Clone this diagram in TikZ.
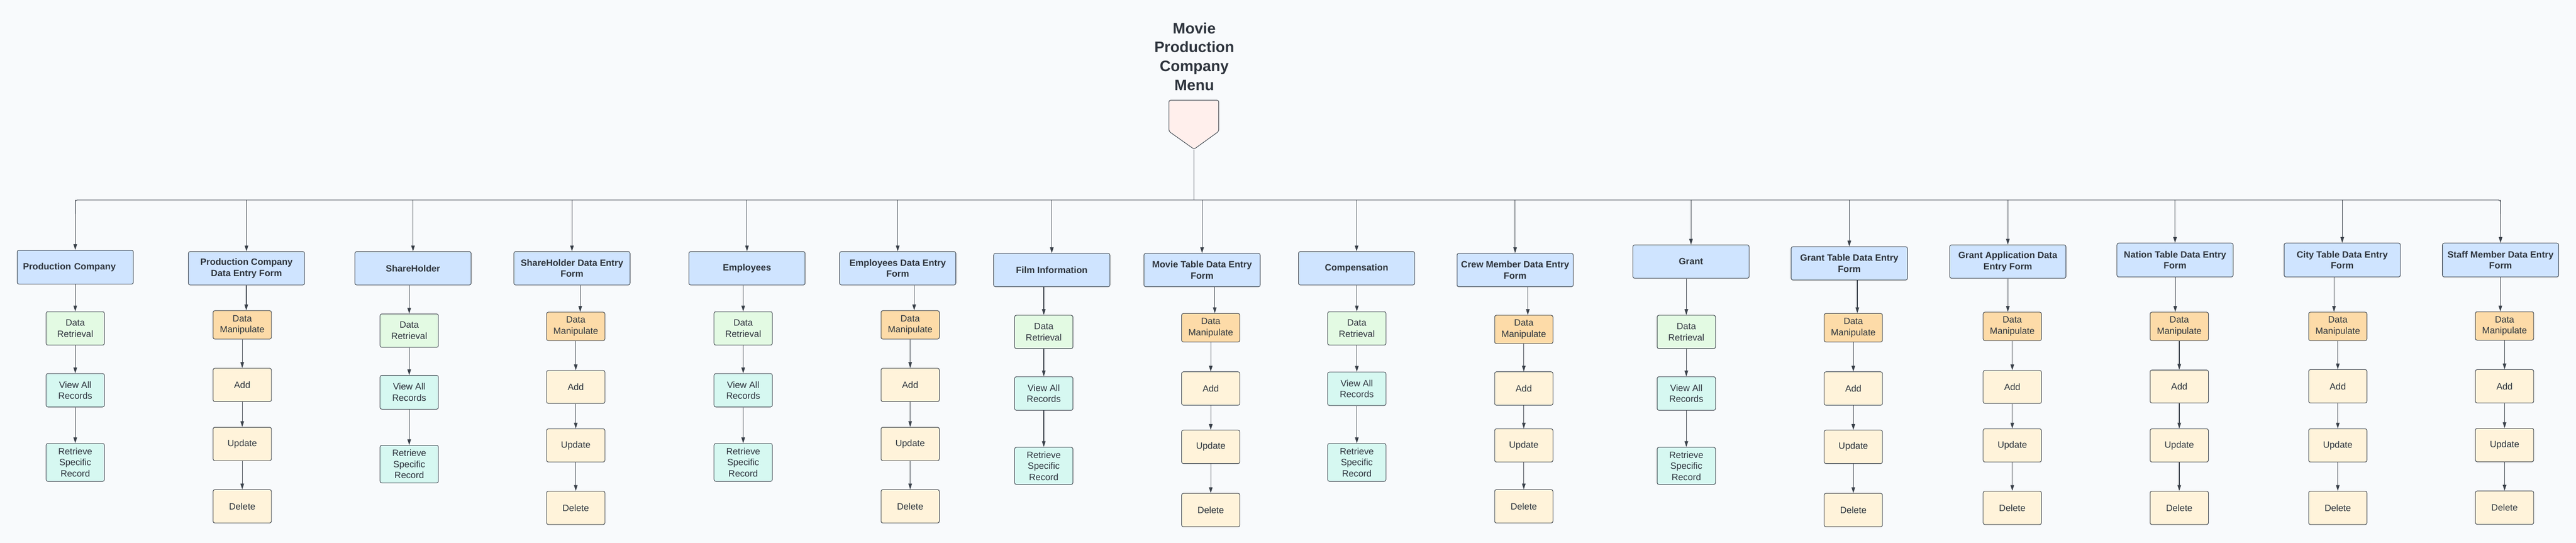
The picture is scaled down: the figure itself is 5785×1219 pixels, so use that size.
\documentclass[tikz,border=0pt]{standalone}
\usepackage{fontspec}
\setmainfont{Liberation Sans}
\usetikzlibrary{arrows.meta}
\definecolor{bgc}{HTML}{F8FAFC}
\definecolor{linec}{HTML}{3A414A}
\definecolor{textc}{HTML}{2E343D}
\definecolor{bluef}{HTML}{CFE4FF}
\definecolor{greenf}{HTML}{E3FAE3}
\definecolor{cyanf}{HTML}{D6F8F1}
\definecolor{orangef}{HTML}{FDDBA8}
\definecolor{beigef}{HTML}{FFF3DA}
\definecolor{pinkf}{HTML}{FFEFEC}
\tikzset{
  anybox/.style={draw=linec, line width=1.2pt, rounded corners=4pt, align=center, text=textc, inner sep=0pt},
  parent/.style={anybox, fill=bluef, minimum width=261pt, font=\bfseries\fontsize{20.5}{25}\selectfont},
  pcleft/.style={align=left, text width=235pt, inner xsep=13pt},
  sub/.style={anybox, minimum width=131pt, font=\fontsize{20.5}{25}\selectfont},
  dr/.style={sub, fill=greenf},
  va/.style={sub, fill=cyanf},
  dm/.style={sub, fill=orangef},
  op/.style={sub, fill=beigef},
  conn/.style={draw=linec, line width=1.3pt},
  arr/.style={conn, -{Triangle[length=13pt,width=8pt]}},
  titlefont/.style={font=\bfseries\fontsize{34}{42.5}\selectfont, text=textc, align=center}
}
% #1 style, #2 name, #3 x, #4 top, #5 bottom, #6 text
\newcommand{\mkbox}[6]{\node[#1, minimum height={(#5)-(#4)}] (#2) at (#3,{((#4)+(#5))/2}) {#6};}
% retrieval column: #1 id, #2 cx, #3..#8 tops/bottoms
\newcommand{\rcol}[8]{%
  \mkbox{dr}{#1a}{#2}{#3}{#4}{Data\\Retrieval}
  \mkbox{va}{#1b}{#2}{#5}{#6}{View All\\Records}
  \mkbox{va}{#1c}{#2}{#7}{#8}{Retrieve\\Specific\\Record}
  \draw[arr] (#1a) -- (#1b);
  \draw[arr] (#1b) -- (#1c);
}
% manipulation column: #1 id, #2 cx, #3 DMt, #4 DMb, #5 At, #6 Ab, #7 Ut, #8 Ub, #9 Dt
\newcommand{\mcol}[9]{%
  \mkbox{dm}{#1a}{#2}{#3}{#4}{Data\\Manipulate}
  \mkbox{op}{#1b}{#2}{#5}{#6}{Add}
  \mkbox{op}{#1c}{#2}{#7}{#8}{Update}
  \mkbox{op}{#1d}{#2}{#9}{#9+75}{Delete}
  \draw[arr] (#1a) -- (#1b);
  \draw[arr] (#1b) -- (#1c);
  \draw[arr] (#1c) -- (#1d);
}
% parent link: #1 id, #2 x of the first arrow
\newcommand{\plink}[2]{%
  \coordinate (x#1) at (#2,0);
  \draw[arr] (p#1.south -| x#1) -- (#1a.north -| x#1);
  \draw[arr] (p#1.north |- bus) -- (p#1.north);
}
\begin{document}
\begin{tikzpicture}[x=1pt,y=-1pt]
\useasboundingbox (0,0) rectangle (5785,1219);
\fill[bgc] (0,0) rectangle (5785,1219);
\coordinate (bus) at (0,449);
\coordinate (bb) at (0,480);

% title and menu shape
\node[titlefont] (title) at (2682,127) {Movie\\Production\\Company\\Menu};
\filldraw[draw=linec, fill=pinkf, line width=1.2pt, rounded corners=4pt]
  (2625,225) -- (2737,225) -- (2737,295) -- (2681.5,335) -- (2625,295) -- cycle;
\coordinate (menutip) at (2681.5,335);

% parent boxes
\mkbox{parent,pcleft}{pc1}{169}{562}{638}{Production Company}
\mkbox{parent}{pc2}{553.5}{565}{640}{Production Company\\Data Entry Form}
\mkbox{parent}{pc3}{927.5}{565}{640}{ShareHolder}
\mkbox{parent}{pc4}{1284.5}{565}{640}{ShareHolder Data Entry\\Form}
\mkbox{parent}{pc5}{1677.5}{565}{640}{Employees}
\mkbox{parent}{pc6}{2016}{565}{640}{Employees Data Entry\\Form}
\mkbox{parent}{pc7}{2362}{569}{644}{Film Information}
\mkbox{parent}{pc8}{2699.5}{569}{644}{Movie Table Data Entry\\Form}
\mkbox{parent}{pc9}{3046.5}{565}{640}{Compensation}
\mkbox{parent}{pc10}{3402.5}{569}{644}{Crew Member Data Entry\\Form}
\mkbox{parent}{pc11}{3797.5}{550}{625}{Grant}
\mkbox{parent}{pc12}{4153}{554}{629}{Grant Table Data Entry\\Form}
\mkbox{parent}{pc13}{4509}{550}{625}{Grant Application Data\\Entry Form}
\mkbox{parent}{pc14}{4884.5}{546}{622}{Nation Table Data Entry\\Form}
\mkbox{parent}{pc15}{5260}{546}{622}{City Table Data Entry\\Form}
\mkbox{parent}{pc16}{5615.5}{546}{622}{Staff Member Data Entry\\Form}

% bus
\draw[conn] (menutip) -- (menutip |- bus);
\draw[conn, rounded corners=5pt] (pc1.north |- bb) -- (pc1.north |- bus) -- (pc16.north |- bus) -- (pc16.north |- bb);

% columns
\rcol{c1}{169}{700}{775}{839}{914}{996}{1081}
\mcol{c2}{544}{697.6}{761.5}{827}{902}{959.5}{1034.6}{1099.6}
\rcol{c3}{919}{705}{780}{843}{919}{1000}{1084.5}
\mcol{c4}{1293}{701}{765}{832}{906}{963}{1037.6}{1103}
\rcol{c5}{1669}{700}{775}{839}{914}{996}{1081}
\mcol{c6}{2044}{697.6}{761.5}{827}{902}{959.5}{1034.6}{1099.6}
\rcol{c7}{2344}{708}{783}{846}{921.5}{1004.5}{1088}
\mcol{c8}{2719}{704}{768}{835}{910}{966}{1041}{1108}
\rcol{c9}{3047}{700}{775}{835.5}{910.6}{996}{1081}
\mcol{c10}{3422}{708}{771.6}{835}{910}{963}{1037.6}{1099.6}
\rcol{c11}{3787}{708}{783}{846}{921.5}{1004.5}{1088}
\mcol{c12}{4162}{704}{768}{835}{910}{966}{1041}{1108}
\mcol{c13}{4519}{701}{765}{832}{906}{963}{1037.6}{1103}
\mcol{c14}{4894}{701}{765}{831}{905}{963}{1037.6}{1103}
\mcol{c15}{5250}{701}{765}{830}{905}{963}{1037.6}{1103}
\mcol{c16}{5624.5}{700}{764}{830}{905}{962}{1037}{1102.6}

% links
\plink{c1}{169}
\plink{c2}{553}
\plink{c3}{919}
\plink{c4}{1303}
\plink{c5}{1669}
\plink{c6}{2053}
\plink{c7}{2344}
\plink{c8}{2728}
\plink{c9}{3047}
\plink{c10}{3431}
\plink{c11}{3787}
\plink{c12}{4171}
\plink{c13}{4509}
\plink{c14}{4885}
\plink{c15}{5241.5}
\plink{c16}{5615}
\end{tikzpicture}
\end{document}
